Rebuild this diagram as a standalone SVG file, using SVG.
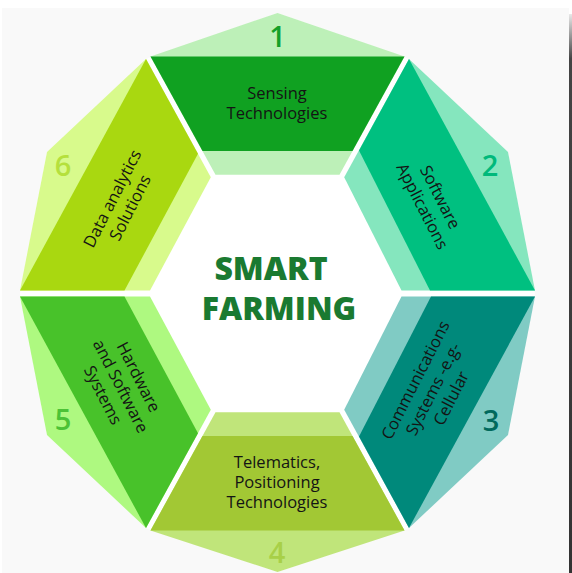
<svg xmlns="http://www.w3.org/2000/svg" width="572" height="573" viewBox="0 0 572 573">
<defs>
<linearGradient id="bar" x1="0" y1="0" x2="0" y2="1">
<stop offset="0" stop-color="#e8e8e8"/>
<stop offset="0.08" stop-color="#444"/>
<stop offset="1" stop-color="#333"/>
</linearGradient>
<style>
.lbl{font-family:"Open Sans","Noto Sans","Liberation Sans",sans-serif;font-size:16.5px;fill:#141414;text-anchor:middle}
.num{font-family:"Open Sans","Noto Sans","Liberation Sans",sans-serif;font-size:29px;font-weight:600;text-anchor:middle}
.title{font-family:"Open Sans","Noto Sans","Liberation Sans",sans-serif;font-size:32px;font-weight:800;fill:#1a7a31;text-anchor:middle}
</style>
</defs>
<rect x="0" y="0" width="572" height="573" fill="#ffffff"/>
<rect x="2" y="8" width="567" height="565" fill="#f9f9f9"/>
<rect x="569" y="14" width="3" height="559" fill="url(#bar)"/>
<polygon points="277.5,13 407,58 508,152 535,293.5 508,435 407,529 277.5,572 148,529 47,435 20,293.5 47,152 148,58" fill="#ffffff"/>

<g id="seg1">
<polygon points="277.5,13 404.5,56.5 339.5,174.8 215.5,174.8 150.5,56.5" fill="#bdf0b8"/>
<polygon points="150.5,56.5 404.5,56.5 352.5,151 202.5,151" fill="#10a121"/>
<text class="num" x="277.5" y="47" fill="#14a028">1</text>
<text class="lbl" x="277" y="99">Sensing</text>
<text class="lbl" x="277" y="119">Technologies</text>
</g>

<g id="seg2">
<polygon points="409,59 508,152 535,290.5 401.5,290.5 344.2,177.2" fill="#85e6be"/>
<polygon points="409,59 535,290.5 430,290.5 359,150.5" fill="#00c080"/>
<text class="num" x="490" y="176" fill="#00b97b">2</text>
<g transform="translate(431.5,201.5) rotate(63)">
<text class="lbl" x="0" y="-4">Software</text>
<text class="lbl" x="0" y="16">Applications</text>
</g>
</g>

<g id="seg3">
<polygon points="409,528 508,435 535,296.5 401.5,296.5 344.2,409.8" fill="#80cbc4"/>
<polygon points="409,528 535,296.5 431,296.5 359,436.5" fill="#00897b"/>
<text class="num" x="491" y="431" fill="#00695c">3</text>
<g transform="translate(433,389) rotate(-63)">
<text class="lbl" x="0" y="-14">Communications</text>
<text class="lbl" x="0" y="6">Systems -e.g-</text>
<text class="lbl" x="0" y="26">Cellular</text>
</g>
</g>

<g id="seg4">
<polygon points="277.5,572 404.5,530.5 339.5,412.2 215.5,412.2 150.5,530.5" fill="#c0e57a"/>
<polygon points="150.5,530.5 404.5,530.5 352.5,436 202.5,436" fill="#a2c834"/>
<text class="num" x="277" y="563" fill="#a8d048">4</text>
<text class="lbl" x="277" y="468">Telematics,</text>
<text class="lbl" x="277" y="488">Positioning</text>
<text class="lbl" x="277" y="508">Technologies</text>
</g>

<g id="seg5">
<polygon points="146,528 47,435 20,296.5 150,296.5 210.8,409.8" fill="#aef980"/>
<polygon points="146,528 20,296.5 124.5,296.5 198,433.3" fill="#48c22a"/>
<text class="num" x="63" y="430" fill="#4cc236">5</text>
<g transform="translate(121,386) rotate(63)">
<text class="lbl" x="0" y="-14">Hardware</text>
<text class="lbl" x="0" y="6">and Software</text>
<text class="lbl" x="0" y="26">Systems</text>
</g>
</g>

<g id="seg6">
<polygon points="146,59 47,152 20,290.5 150,290.5 210.8,177.2" fill="#d8fa8c"/>
<polygon points="146,59 20,290.5 124.5,290.5 198,153.7" fill="#a9d810"/>
<text class="num" x="63" y="176" fill="#b5e03c">6</text>
<g transform="translate(121,203) rotate(-63)">
<text class="lbl" x="0" y="-4">Data analytics</text>
<text class="lbl" x="0" y="16">Solutions</text>
</g>
</g>

<g id="center">
<text class="title" x="271" y="280">SMART</text>
<text class="title" x="279" y="320">FARMING</text>
</g>
</svg>
